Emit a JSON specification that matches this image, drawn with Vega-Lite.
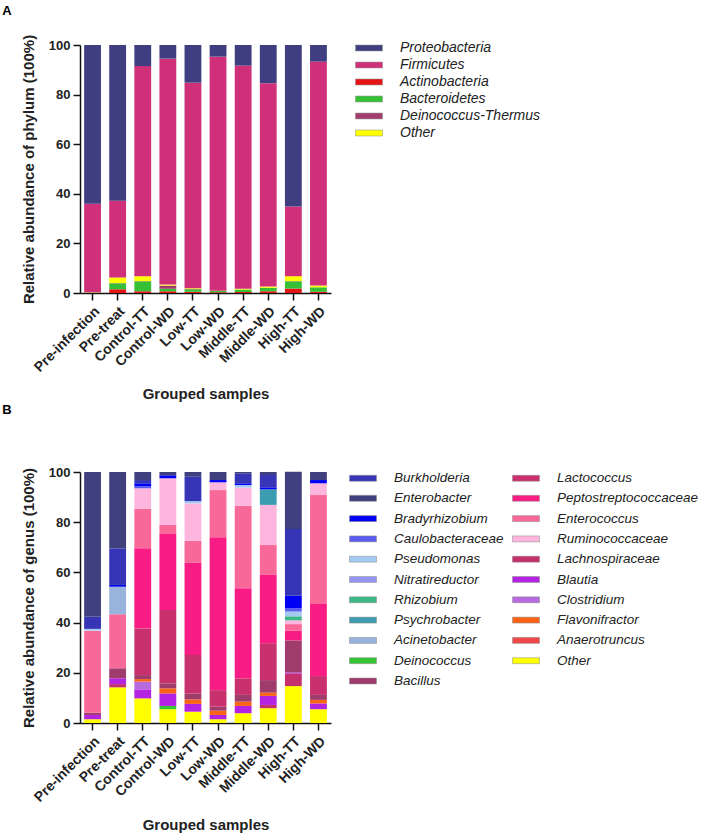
{
  "$schema": "https://vega.github.io/schema/vega-lite/v6.json",
  "background": "white",
  "padding": {"left": 2, "top": 5, "right": 0, "bottom": 0},
  "datasets": {
    "phylum": [
      {"sample":"Pre-infection","taxon":"Actinobacteria","rank":1,"value":0.1},
      {"sample":"Pre-infection","taxon":"Bacteroidetes","rank":2,"value":0.1},
      {"sample":"Pre-infection","taxon":"Other","rank":4,"value":0.1},
      {"sample":"Pre-infection","taxon":"Firmicutes","rank":5,"value":35.7},
      {"sample":"Pre-infection","taxon":"Proteobacteria","rank":6,"value":64.0},
      {"sample":"Pre-treat","taxon":"Actinobacteria","rank":1,"value":1.5},
      {"sample":"Pre-treat","taxon":"Bacteroidetes","rank":2,"value":2.4},
      {"sample":"Pre-treat","taxon":"Deinococcus-Thermus","rank":3,"value":0.1},
      {"sample":"Pre-treat","taxon":"Other","rank":4,"value":2.3},
      {"sample":"Pre-treat","taxon":"Firmicutes","rank":5,"value":30.9},
      {"sample":"Pre-treat","taxon":"Proteobacteria","rank":6,"value":62.8},
      {"sample":"Control-TT","taxon":"Actinobacteria","rank":1,"value":0.7},
      {"sample":"Control-TT","taxon":"Bacteroidetes","rank":2,"value":4.0},
      {"sample":"Control-TT","taxon":"Deinococcus-Thermus","rank":3,"value":0.1},
      {"sample":"Control-TT","taxon":"Other","rank":4,"value":2.0},
      {"sample":"Control-TT","taxon":"Firmicutes","rank":5,"value":84.7},
      {"sample":"Control-TT","taxon":"Proteobacteria","rank":6,"value":8.5},
      {"sample":"Control-WD","taxon":"Actinobacteria","rank":1,"value":0.7},
      {"sample":"Control-WD","taxon":"Bacteroidetes","rank":2,"value":1.0},
      {"sample":"Control-WD","taxon":"Deinococcus-Thermus","rank":3,"value":1.3},
      {"sample":"Control-WD","taxon":"Other","rank":4,"value":0.4},
      {"sample":"Control-WD","taxon":"Firmicutes","rank":5,"value":91.1},
      {"sample":"Control-WD","taxon":"Proteobacteria","rank":6,"value":5.5},
      {"sample":"Low-TT","taxon":"Actinobacteria","rank":1,"value":0.5},
      {"sample":"Low-TT","taxon":"Bacteroidetes","rank":2,"value":1.0},
      {"sample":"Low-TT","taxon":"Deinococcus-Thermus","rank":3,"value":0.1},
      {"sample":"Low-TT","taxon":"Other","rank":4,"value":0.3},
      {"sample":"Low-TT","taxon":"Firmicutes","rank":5,"value":82.9},
      {"sample":"Low-TT","taxon":"Proteobacteria","rank":6,"value":15.2},
      {"sample":"Low-WD","taxon":"Actinobacteria","rank":1,"value":0.3},
      {"sample":"Low-WD","taxon":"Bacteroidetes","rank":2,"value":0.5},
      {"sample":"Low-WD","taxon":"Other","rank":4,"value":0.1},
      {"sample":"Low-WD","taxon":"Firmicutes","rank":5,"value":94.4},
      {"sample":"Low-WD","taxon":"Proteobacteria","rank":6,"value":4.7},
      {"sample":"Middle-TT","taxon":"Actinobacteria","rank":1,"value":0.4},
      {"sample":"Middle-TT","taxon":"Bacteroidetes","rank":2,"value":1.0},
      {"sample":"Middle-TT","taxon":"Other","rank":4,"value":0.3},
      {"sample":"Middle-TT","taxon":"Firmicutes","rank":5,"value":90.0},
      {"sample":"Middle-TT","taxon":"Proteobacteria","rank":6,"value":8.3},
      {"sample":"Middle-WD","taxon":"Actinobacteria","rank":1,"value":0.7},
      {"sample":"Middle-WD","taxon":"Bacteroidetes","rank":2,"value":1.4},
      {"sample":"Middle-WD","taxon":"Other","rank":4,"value":0.5},
      {"sample":"Middle-WD","taxon":"Firmicutes","rank":5,"value":82.0},
      {"sample":"Middle-WD","taxon":"Proteobacteria","rank":6,"value":15.4},
      {"sample":"High-TT","taxon":"Actinobacteria","rank":1,"value":1.8},
      {"sample":"High-TT","taxon":"Bacteroidetes","rank":2,"value":2.9},
      {"sample":"High-TT","taxon":"Deinococcus-Thermus","rank":3,"value":0.1},
      {"sample":"High-TT","taxon":"Other","rank":4,"value":2.0},
      {"sample":"High-TT","taxon":"Firmicutes","rank":5,"value":28.1},
      {"sample":"High-TT","taxon":"Proteobacteria","rank":6,"value":65.1},
      {"sample":"High-WD","taxon":"Actinobacteria","rank":1,"value":0.5},
      {"sample":"High-WD","taxon":"Bacteroidetes","rank":2,"value":1.8},
      {"sample":"High-WD","taxon":"Other","rank":4,"value":0.7},
      {"sample":"High-WD","taxon":"Firmicutes","rank":5,"value":90.3},
      {"sample":"High-WD","taxon":"Proteobacteria","rank":6,"value":6.7}
    ],
    "genus": [
      {"sample":"Pre-infection","taxon":"Other","rank":1,"value":1.5},
      {"sample":"Pre-infection","taxon":"Blautia","rank":5,"value":1.7},
      {"sample":"Pre-infection","taxon":"Bacillus","rank":8,"value":0.9},
      {"sample":"Pre-infection","taxon":"Enterococcus","rank":11,"value":32.7},
      {"sample":"Pre-infection","taxon":"Pseudomonas","rank":17,"value":0.7},
      {"sample":"Pre-infection","taxon":"Burkholderia","rank":20,"value":4.8},
      {"sample":"Pre-infection","taxon":"Enterobacter","rank":21,"value":57.7},
      {"sample":"Pre-treat","taxon":"Other","rank":1,"value":14.2},
      {"sample":"Pre-treat","taxon":"Lachnospiraceae","rank":4,"value":1.3},
      {"sample":"Pre-treat","taxon":"Blautia","rank":5,"value":2.3},
      {"sample":"Pre-treat","taxon":"Bacillus","rank":8,"value":4.0},
      {"sample":"Pre-treat","taxon":"Enterococcus","rank":11,"value":21.5},
      {"sample":"Pre-treat","taxon":"Acinetobacter","rank":13,"value":11.0},
      {"sample":"Pre-treat","taxon":"Bradyrhizobium","rank":19,"value":0.7},
      {"sample":"Pre-treat","taxon":"Burkholderia","rank":20,"value":14.6},
      {"sample":"Pre-treat","taxon":"Enterobacter","rank":21,"value":30.4},
      {"sample":"Control-TT","taxon":"Other","rank":1,"value":9.8},
      {"sample":"Control-TT","taxon":"Blautia","rank":5,"value":3.6},
      {"sample":"Control-TT","taxon":"Clostridium","rank":6,"value":3.1},
      {"sample":"Control-TT","taxon":"Flavonifractor","rank":7,"value":1.0},
      {"sample":"Control-TT","taxon":"Bacillus","rank":8,"value":1.6},
      {"sample":"Control-TT","taxon":"Lactococcus","rank":9,"value":18.6},
      {"sample":"Control-TT","taxon":"Peptostreptococcaceae","rank":10,"value":31.9},
      {"sample":"Control-TT","taxon":"Enterococcus","rank":11,"value":15.7},
      {"sample":"Control-TT","taxon":"Ruminococcaceae","rank":12,"value":8.2},
      {"sample":"Control-TT","taxon":"Caulobacteraceae","rank":18,"value":0.9},
      {"sample":"Control-TT","taxon":"Bradyrhizobium","rank":19,"value":1.1},
      {"sample":"Control-TT","taxon":"Burkholderia","rank":20,"value":1.3},
      {"sample":"Control-TT","taxon":"Enterobacter","rank":21,"value":3.2},
      {"sample":"Control-WD","taxon":"Other","rank":1,"value":5.5},
      {"sample":"Control-WD","taxon":"Deinococcus","rank":3,"value":1.3},
      {"sample":"Control-WD","taxon":"Blautia","rank":5,"value":5.0},
      {"sample":"Control-WD","taxon":"Flavonifractor","rank":7,"value":2.0},
      {"sample":"Control-WD","taxon":"Bacillus","rank":8,"value":2.0},
      {"sample":"Control-WD","taxon":"Lactococcus","rank":9,"value":29.2},
      {"sample":"Control-WD","taxon":"Peptostreptococcaceae","rank":10,"value":30.3},
      {"sample":"Control-WD","taxon":"Enterococcus","rank":11,"value":3.6},
      {"sample":"Control-WD","taxon":"Ruminococcaceae","rank":12,"value":18.6},
      {"sample":"Control-WD","taxon":"Bradyrhizobium","rank":19,"value":1.2},
      {"sample":"Control-WD","taxon":"Enterobacter","rank":21,"value":1.3},
      {"sample":"Low-TT","taxon":"Other","rank":1,"value":4.5},
      {"sample":"Low-TT","taxon":"Blautia","rank":5,"value":3.1},
      {"sample":"Low-TT","taxon":"Flavonifractor","rank":7,"value":1.8},
      {"sample":"Low-TT","taxon":"Bacillus","rank":8,"value":2.4},
      {"sample":"Low-TT","taxon":"Lactococcus","rank":9,"value":15.3},
      {"sample":"Low-TT","taxon":"Peptostreptococcaceae","rank":10,"value":36.8},
      {"sample":"Low-TT","taxon":"Enterococcus","rank":11,"value":8.7},
      {"sample":"Low-TT","taxon":"Ruminococcaceae","rank":12,"value":14.9},
      {"sample":"Low-TT","taxon":"Pseudomonas","rank":17,"value":0.9},
      {"sample":"Low-TT","taxon":"Burkholderia","rank":20,"value":9.7},
      {"sample":"Low-TT","taxon":"Enterobacter","rank":21,"value":1.9},
      {"sample":"Low-WD","taxon":"Other","rank":1,"value":1.5},
      {"sample":"Low-WD","taxon":"Blautia","rank":5,"value":1.7},
      {"sample":"Low-WD","taxon":"Flavonifractor","rank":7,"value":1.7},
      {"sample":"Low-WD","taxon":"Bacillus","rank":8,"value":1.6},
      {"sample":"Low-WD","taxon":"Lactococcus","rank":9,"value":6.6},
      {"sample":"Low-WD","taxon":"Peptostreptococcaceae","rank":10,"value":60.9},
      {"sample":"Low-WD","taxon":"Enterococcus","rank":11,"value":18.8},
      {"sample":"Low-WD","taxon":"Ruminococcaceae","rank":12,"value":3.1},
      {"sample":"Low-WD","taxon":"Bradyrhizobium","rank":19,"value":0.9},
      {"sample":"Low-WD","taxon":"Enterobacter","rank":21,"value":3.2},
      {"sample":"Middle-TT","taxon":"Other","rank":1,"value":3.9},
      {"sample":"Middle-TT","taxon":"Blautia","rank":5,"value":2.9},
      {"sample":"Middle-TT","taxon":"Flavonifractor","rank":7,"value":1.7},
      {"sample":"Middle-TT","taxon":"Bacillus","rank":8,"value":2.7},
      {"sample":"Middle-TT","taxon":"Lactococcus","rank":9,"value":6.6},
      {"sample":"Middle-TT","taxon":"Peptostreptococcaceae","rank":10,"value":35.9},
      {"sample":"Middle-TT","taxon":"Enterococcus","rank":11,"value":32.9},
      {"sample":"Middle-TT","taxon":"Ruminococcaceae","rank":12,"value":7.2},
      {"sample":"Middle-TT","taxon":"Pseudomonas","rank":17,"value":1.0},
      {"sample":"Middle-TT","taxon":"Bradyrhizobium","rank":19,"value":0.7},
      {"sample":"Middle-TT","taxon":"Burkholderia","rank":20,"value":3.8},
      {"sample":"Middle-TT","taxon":"Enterobacter","rank":21,"value":0.7},
      {"sample":"Middle-WD","taxon":"Other","rank":1,"value":5.9},
      {"sample":"Middle-WD","taxon":"Lachnospiraceae","rank":4,"value":1.3},
      {"sample":"Middle-WD","taxon":"Blautia","rank":5,"value":3.6},
      {"sample":"Middle-WD","taxon":"Flavonifractor","rank":7,"value":1.3},
      {"sample":"Middle-WD","taxon":"Bacillus","rank":8,"value":5.0},
      {"sample":"Middle-WD","taxon":"Lactococcus","rank":9,"value":14.7},
      {"sample":"Middle-WD","taxon":"Peptostreptococcaceae","rank":10,"value":27.2},
      {"sample":"Middle-WD","taxon":"Enterococcus","rank":11,"value":11.9},
      {"sample":"Middle-WD","taxon":"Ruminococcaceae","rank":12,"value":16.0},
      {"sample":"Middle-WD","taxon":"Psychrobacter","rank":14,"value":6.2},
      {"sample":"Middle-WD","taxon":"Bradyrhizobium","rank":19,"value":0.8},
      {"sample":"Middle-WD","taxon":"Burkholderia","rank":20,"value":4.9},
      {"sample":"Middle-WD","taxon":"Enterobacter","rank":21,"value":1.2},
      {"sample":"High-TT","taxon":"Other","rank":1,"value":14.7},
      {"sample":"High-TT","taxon":"Lachnospiraceae","rank":4,"value":5.0},
      {"sample":"High-TT","taxon":"Blautia","rank":5,"value":0.4},
      {"sample":"High-TT","taxon":"Bacillus","rank":8,"value":12.8},
      {"sample":"High-TT","taxon":"Peptostreptococcaceae","rank":10,"value":3.9},
      {"sample":"High-TT","taxon":"Enterococcus","rank":11,"value":2.6},
      {"sample":"High-TT","taxon":"Ruminococcaceae","rank":12,"value":1.5},
      {"sample":"High-TT","taxon":"Rhizobium","rank":15,"value":1.6},
      {"sample":"High-TT","taxon":"Pseudomonas","rank":17,"value":1.9},
      {"sample":"High-TT","taxon":"Caulobacteraceae","rank":18,"value":1.4},
      {"sample":"High-TT","taxon":"Bradyrhizobium","rank":19,"value":4.9},
      {"sample":"High-TT","taxon":"Burkholderia","rank":20,"value":26.6},
      {"sample":"High-TT","taxon":"Enterobacter","rank":21,"value":22.8},
      {"sample":"High-WD","taxon":"Other","rank":1,"value":5.5},
      {"sample":"High-WD","taxon":"Blautia","rank":5,"value":2.3},
      {"sample":"High-WD","taxon":"Flavonifractor","rank":7,"value":1.4},
      {"sample":"High-WD","taxon":"Bacillus","rank":8,"value":2.0},
      {"sample":"High-WD","taxon":"Lactococcus","rank":9,"value":7.5},
      {"sample":"High-WD","taxon":"Peptostreptococcaceae","rank":10,"value":28.7},
      {"sample":"High-WD","taxon":"Enterococcus","rank":11,"value":43.4},
      {"sample":"High-WD","taxon":"Ruminococcaceae","rank":12,"value":4.7},
      {"sample":"High-WD","taxon":"Bradyrhizobium","rank":19,"value":1.3},
      {"sample":"High-WD","taxon":"Enterobacter","rank":21,"value":3.2}
    ]
  },
  "spacing": 2,
  "resolve": {"scale": {"color": "independent"}, "legend": {"color": "independent"}},
  "vconcat": [
    {
      "title": {"text": "A", "anchor": "start", "frame": "bounds", "dx": -19, "offset": 16, "fontSize": 13, "fontWeight": "bold", "font": "Liberation Sans"},
      "width": 251,
      "height": 248,
      "data": {"name": "phylum"},
      "mark": {"type": "bar"},
      "encoding": {
        "x": {"field": "sample", "type": "nominal", "sort": ["Pre-infection","Pre-treat","Control-TT","Control-WD","Low-TT","Low-WD","Middle-TT","Middle-WD","High-TT","High-WD"], "scale": {"paddingInner": 0.33, "paddingOuter": 0.165}, "title": "Grouped samples", "axis": {"titlePadding": 12}},
        "y": {"field": "value", "type": "quantitative", "stack": "zero", "scale": {"domain": [0, 100], "nice": false}, "axis": {"values": [0,20,40,60,80,100]}, "title": "Relative abundance of phylum (100%)"},
        "order": {"field": "rank", "type": "quantitative", "sort": "ascending"},
        "color": {
          "field": "taxon", "type": "nominal",
          "scale": {"domain": ["Proteobacteria","Firmicutes","Actinobacteria","Bacteroidetes","Deinococcus-Thermus","Other"], "range": ["#3e3e80","#d0307a","#e41414","#36c036","#a23e6e","#ffff00"]},
          "legend": {"title": null, "orient": "none", "legendX": 282, "legendY": -4, "rowPadding": 3}
        }
      }
    },
    {
      "title": {"text": "B", "anchor": "start", "frame": "bounds", "dx": -19, "offset": 49, "fontSize": 13, "fontWeight": "bold", "font": "Liberation Sans"},
      "width": 251,
      "height": 251,
      "data": {"name": "genus"},
      "mark": {"type": "bar"},
      "encoding": {
        "x": {"field": "sample", "type": "nominal", "sort": ["Pre-infection","Pre-treat","Control-TT","Control-WD","Low-TT","Low-WD","Middle-TT","Middle-WD","High-TT","High-WD"], "scale": {"paddingInner": 0.33, "paddingOuter": 0.165}, "title": "Grouped samples", "axis": {"titlePadding": 13}},
        "y": {"field": "value", "type": "quantitative", "stack": "zero", "scale": {"domain": [0, 100], "nice": false}, "axis": {"values": [0,20,40,60,80,100]}, "title": "Relative abundance of genus (100%)"},
        "order": {"field": "rank", "type": "quantitative", "sort": "ascending"},
        "color": {
          "field": "taxon", "type": "nominal",
          "scale": {
            "domain": ["Burkholderia","Enterobacter","Bradyrhizobium","Caulobacteraceae","Pseudomonas","Nitratireductor","Rhizobium","Psychrobacter","Acinetobacter","Deinococcus","Bacillus","Lactococcus","Peptostreptococcaceae","Enterococcus","Ruminococcaceae","Lachnospiraceae","Blautia","Clostridium","Flavonifractor","Anaerotruncus","Other"],
            "range": ["#3535b5","#40407e","#0000f5","#5c5cee","#a4caf2","#9494f2","#3cb888","#3c9cb0","#98b4dc","#34c434","#a03c6c","#c8306e","#f81c84","#f86898","#ffb6de","#c4306c","#b422e2","#b66ade","#fa6414","#f04848","#ffff00"]
          },
          "legend": {"title": null, "orient": "none", "legendX": 276, "legendY": -1, "columns": 2, "rowPadding": 6.3, "columnPadding": 7, "labelFontSize": 13.5}
        }
      }
    }
  ],
  "config": {
    "font": "Liberation Sans",
    "view": {"stroke": null},
    "axis": {
      "domainColor": "#111", "domainWidth": 1.5, "tickColor": "#111", "tickWidth": 1.5, "tickSize": 7,
      "labelFont": "Liberation Sans", "labelFontSize": 13, "labelFontWeight": "bold", "labelColor": "#222",
      "titleFont": "Liberation Sans", "titleFontSize": 15, "titleFontWeight": "bold", "titleColor": "#222",
      "grid": false
    },
    "axisX": {"labelAngle": -45, "labelPadding": 4, "labelFontSize": 14},
    "axisY": {"labelPadding": 3, "titlePadding": 12},
    "legend": {
      "symbolType": "M-2,-0.44H2V0.44H-2Z", "symbolSize": 182.25, "symbolStrokeColor": "#888", "symbolStrokeWidth": 0.5,
      "labelFont": "Liberation Sans", "labelFontSize": 14, "labelFontStyle": "italic", "labelColor": "#222",
      "labelOffset": 24, "padding": 0, "labelLimit": 300
    }
  }
}
